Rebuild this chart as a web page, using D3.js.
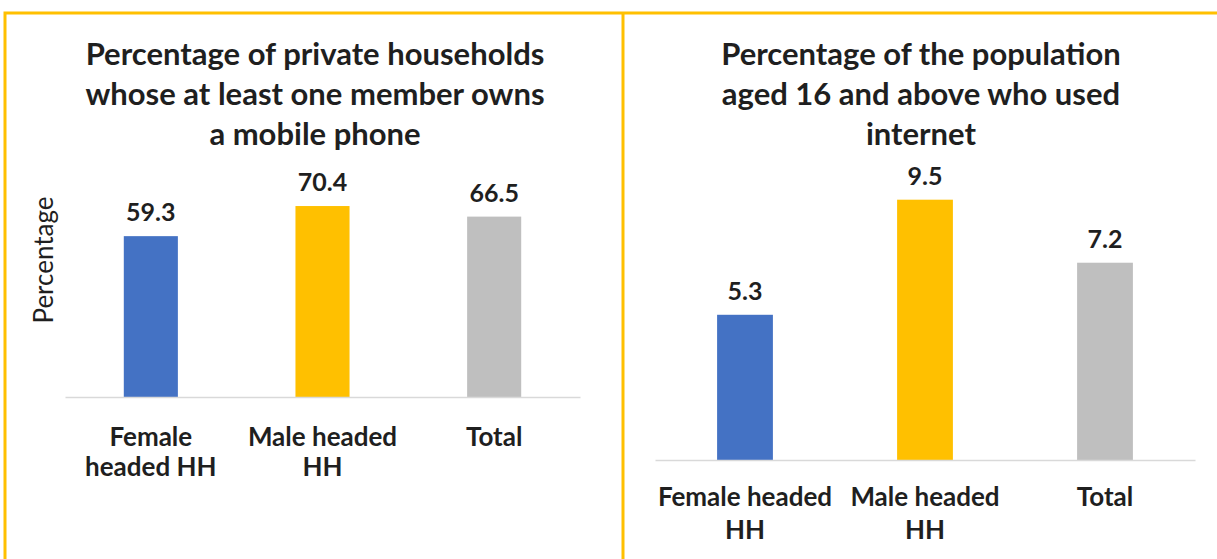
<!DOCTYPE html>
<html>
<head>
<meta charset="utf-8">
<script src="https://cdn.jsdelivr.net/npm/d3@7"></script>
<style>
  body { margin: 0; background: #fff; }
  svg text { font-family: Lato, "Open Sans", sans-serif; fill: #1f1f1f; }
</style>
</head>
<body>
<div id="chart"></div>
<script>
(function () {

  // data
  var categories = ["Female headed HH", "Male headed HH", "Total"];
  var mobileValues = [59.3, 70.4, 66.5];
  var internetValues = [5.3, 9.5, 7.2];
  var colors = ["#4472C4", "#FFC000", "#BFBFBF"];

  var mobileTitle = ["Percentage of private households", "whose at least one member owns", "a mobile phone"];
  var internetTitle = ["Percentage of the population", "aged 16 and above who used", "internet"];

  // how the category names wrap in each panel
  var mobileLabelLines = [["Female", "headed HH"], ["Male headed", "HH"], ["Total"]];
  var internetLabelLines = [["Female headed", "HH"], ["Male headed", "HH"], ["Total"]];

  var w = 1217;
  var h = 559;

  var svg = d3.select("#chart")
    .append("svg")
    .attr("width", w)
    .attr("height", h);

  // panel frames
  var frame = svg.append("g")
    .style("stroke", "#FFC000")
    .style("stroke-width", 3)
    .style("fill", "none");
  frame.append("path").attr("d", "M5," + h + " V13 H" + w);
  frame.append("path").attr("d", "M623,13 V" + h);

  function drawPanel(opts) {
    var g = svg.append("g");

    var x = d3.scaleBand()
      .domain(categories)
      .range([opts.left, opts.right])
      .paddingInner(opts.pad)
      .paddingOuter(opts.pad / 2);

    var y = d3.scaleLinear()
      .domain([0, opts.max])
      .range([opts.base, opts.top]);

    var data = categories.map(function (c, i) {
      return { cat: c, value: opts.values[i], color: colors[i], lines: opts.lines[i] };
    });

    // title
    g.append("text")
      .attr("text-anchor", "middle")
      .style("font-size", "31px")
      .style("font-weight", "bold")
      .selectAll("tspan")
      .data(opts.title)
      .enter()
      .append("tspan")
      .attr("x", opts.titleX)
      .attr("y", function (d, i) { return 65 + i * 40; })
      .text(function (d) { return d; });

    // bars
    g.selectAll(".bar")
      .data(data)
      .enter()
      .append("rect")
      .attr("class", "bar")
      .attr("x", function (d) { return x(d.cat); })
      .attr("width", x.bandwidth())
      .attr("y", function (d) { return y(d.value); })
      .attr("height", function (d) { return opts.base - y(d.value); })
      .style("fill", function (d) { return d.color; });

    // baseline
    var axis = g.append("g")
      .attr("transform", "translate(0," + opts.base + ")")
      .call(d3.axisBottom(x).tickSize(0).tickFormat(""));
    axis.select(".domain").style("stroke", "#D9D9D9").style("stroke-width", 1.5);

    // value labels
    g.selectAll(".val")
      .data(data)
      .enter()
      .append("text")
      .attr("class", "val")
      .attr("text-anchor", "middle")
      .attr("x", function (d) { return x(d.cat) + x.bandwidth() / 2; })
      .attr("y", function (d) { return y(d.value) - 15; })
      .style("font-size", "25px")
      .style("font-weight", "bold")
      .text(function (d) { return d.value.toFixed(1); });

    // category labels
    var cat = g.selectAll(".cat")
      .data(data)
      .enter()
      .append("text")
      .attr("class", "cat")
      .attr("text-anchor", "middle")
      .style("font-size", "26px")
      .style("font-weight", "bold");
    cat.selectAll("tspan")
      .data(function (d) {
        return d.lines.map(function (l) { return { text: l, cx: x(d.cat) + x.bandwidth() / 2 }; });
      })
      .enter()
      .append("tspan")
      .attr("x", function (d) { return d.cx; })
      .attr("y", function (d, i) { return opts.base + opts.labelGap + i * opts.lineGap; })
      .text(function (d) { return d.text; });

    if (opts.yTitle) {
      g.append("text")
        .attr("transform", "translate(53,260) rotate(-90)")
        .attr("text-anchor", "middle")
        .style("font-size", "26px")
        .text(opts.yTitle);
    }
  }

  drawPanel({
    values: mobileValues, lines: mobileLabelLines, title: mobileTitle,
    titleX: 315, left: 65, right: 580, pad: 0.685,
    base: 397, top: 180, max: 80, labelGap: 49, lineGap: 30, yTitle: "Percentage"
  });

  drawPanel({
    values: internetValues, lines: internetLabelLines, title: internetTitle,
    titleX: 921, left: 655, right: 1195, pad: 0.69,
    base: 460, top: 186, max: 10, labelGap: 46, lineGap: 33
  });

})();
</script>
</body>
</html>
